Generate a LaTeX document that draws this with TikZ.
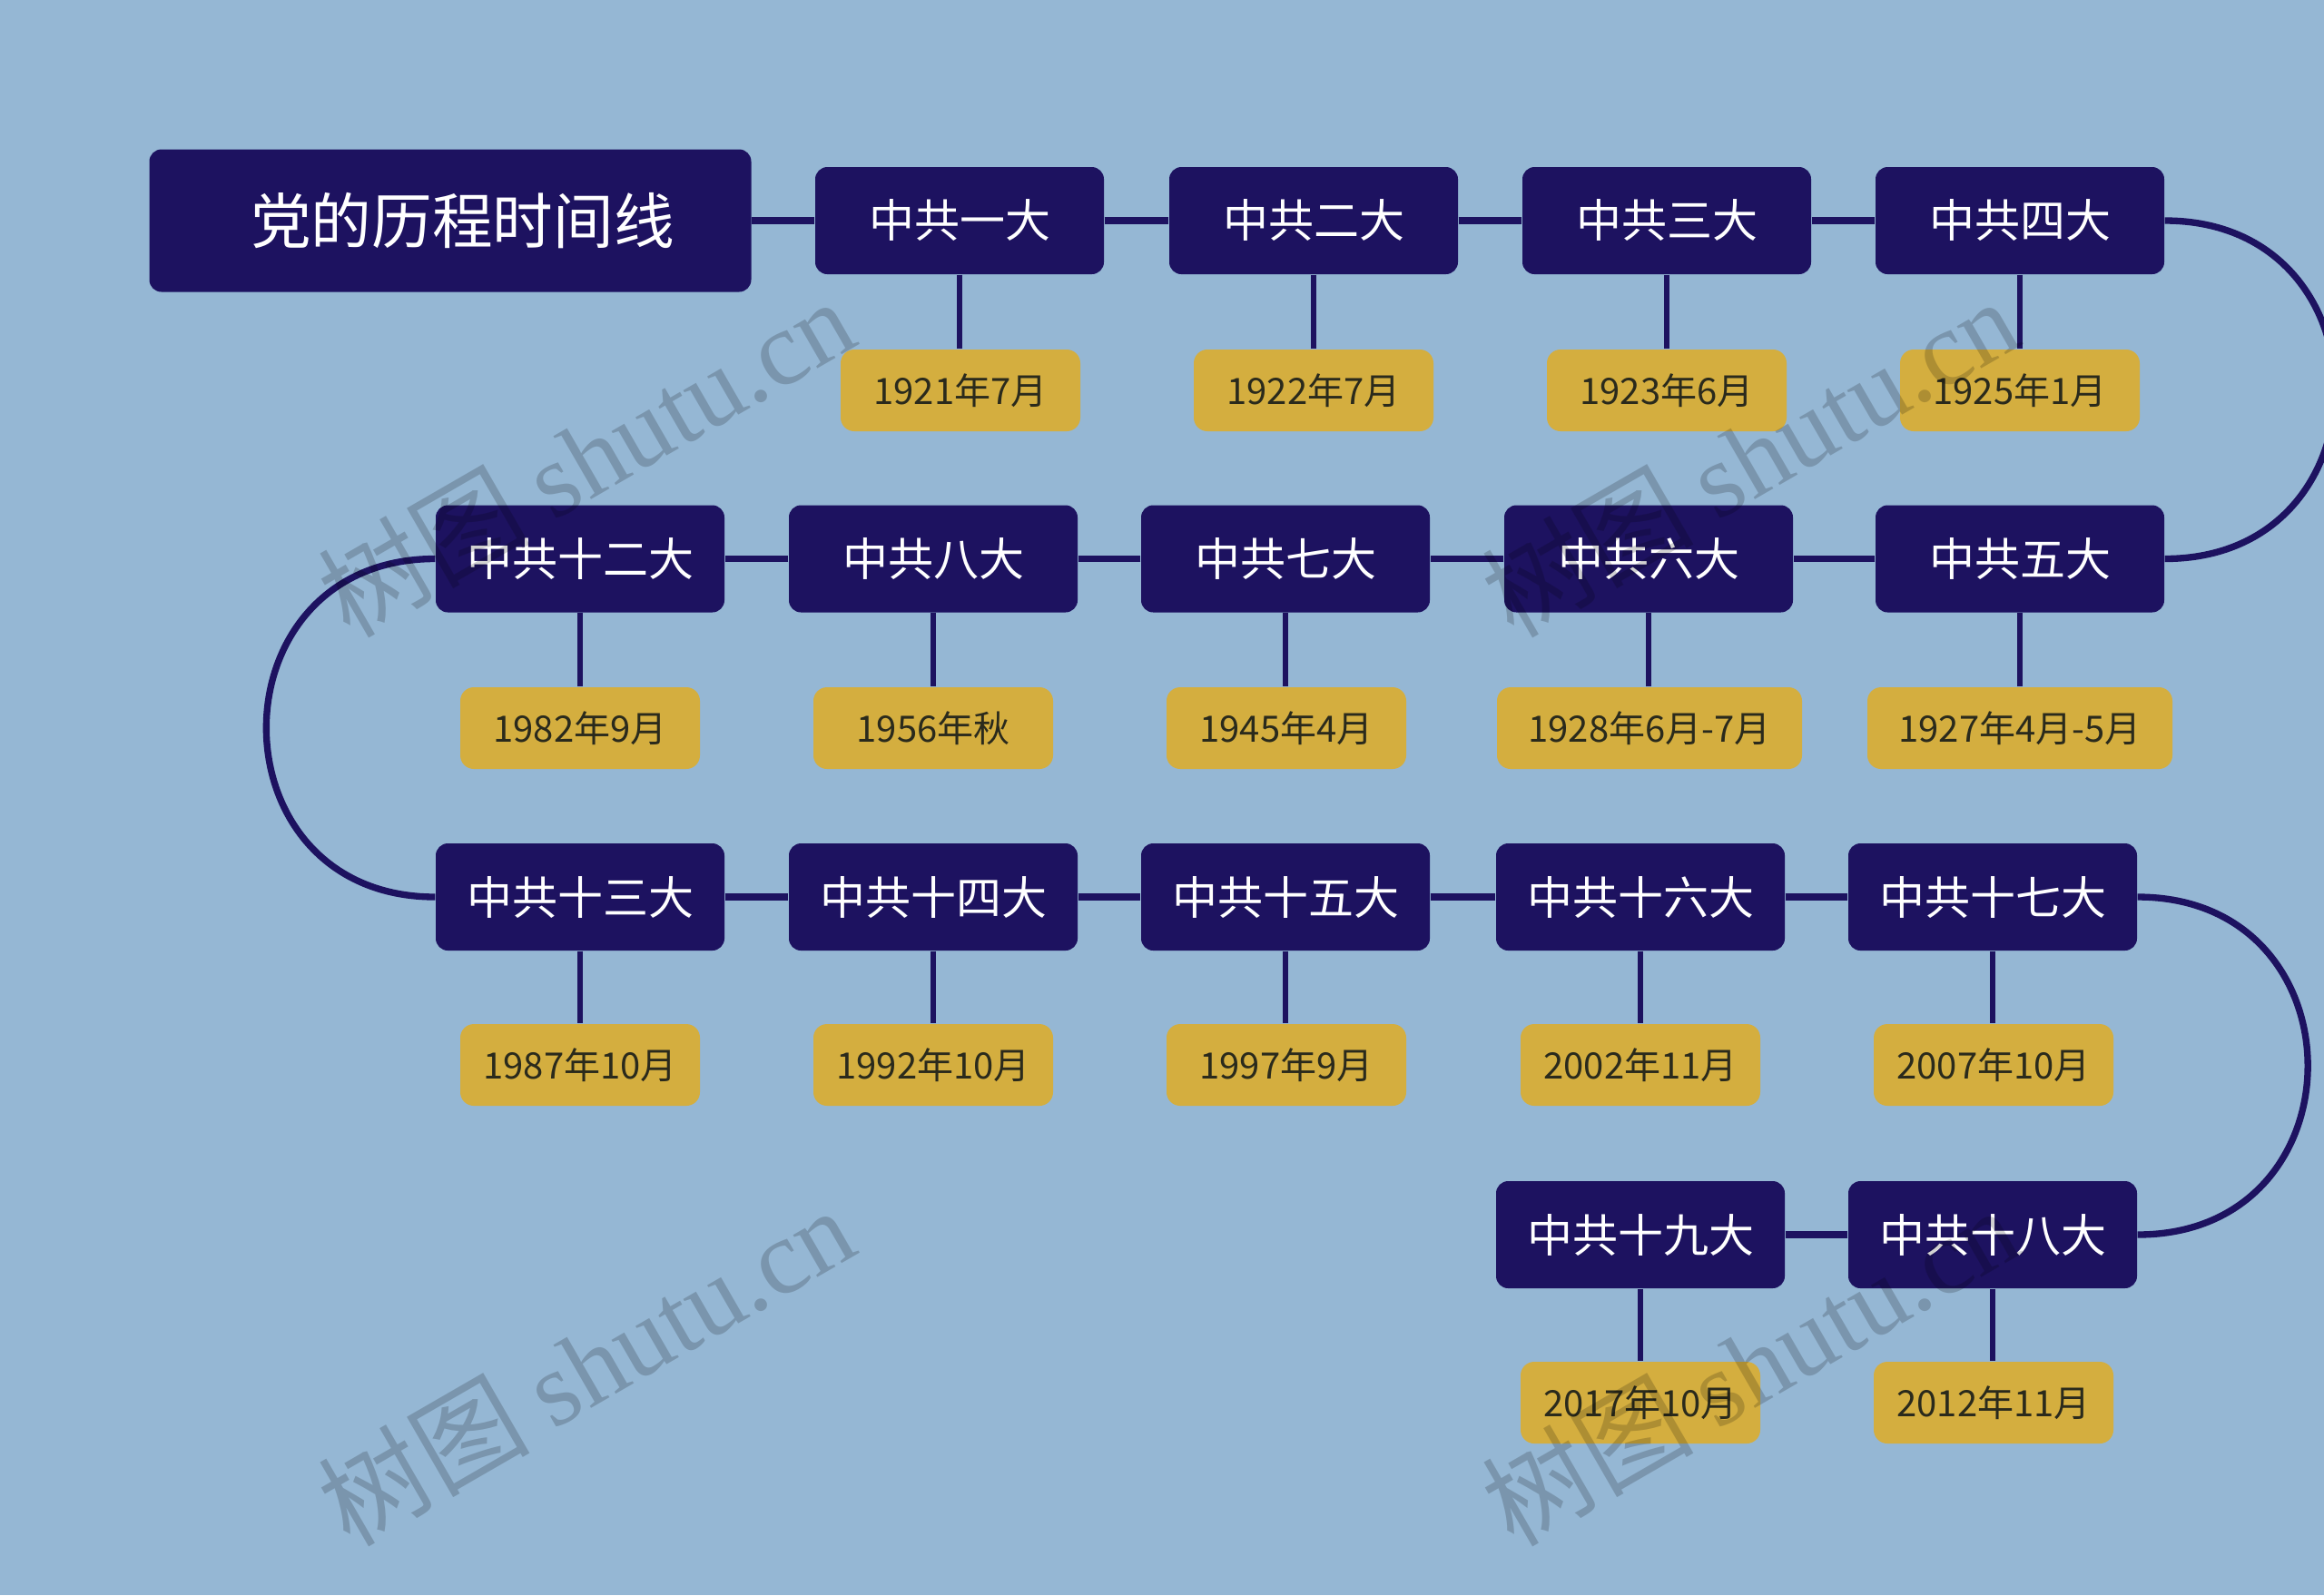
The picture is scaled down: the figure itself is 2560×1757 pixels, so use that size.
\documentclass[tikz,border=0pt]{standalone}
\usepackage{fontspec}
\setmainfont{Noto Sans CJK SC}
\newfontfamily\wmlatin{Liberation Serif}
\definecolor{bg}{HTML}{95B7D4}
\definecolor{navy}{HTML}{1D1260}
\definecolor{gold}{HTML}{D4AE3F}
\definecolor{datetext}{HTML}{2A2A1C}
\begin{document}
\begin{tikzpicture}[x=0.3pt,y=-0.3pt,
  titlebox/.style={fill=navy, rounded corners=4pt, minimum width=198.9pt, minimum height=47.1pt, text=white, font=\fontsize{20}{24}\selectfont, inner sep=0pt},
  congress/.style={fill=navy, rounded corners=4pt, minimum width=95.4pt, minimum height=35.4pt, text=white, font=\fontsize{15}{18}\selectfont, inner sep=0pt},
  datebox/.style={fill=gold, rounded corners=4.5pt, minimum width=79.2pt, minimum height=27pt, text=datetext, font=\fontsize{12}{14}\selectfont, inner sep=0pt},
  widedate/.style={datebox, minimum width=100.8pt},
  link/.style={draw=navy, line width=2.2pt},
  stem/.style={draw=navy, line width=1.8pt},
  watermark/.style={rotate=30, text=black, opacity=0.18, font=\fontsize{35}{40}\selectfont}]
\fill[bg] (0,0) rectangle (2560,1757);
\useasboundingbox (0,0) rectangle (2560,1757);

% title
\node[titlebox] (title) at (496,243) {\hspace*{8pt}党的历程时间线};

% row 1
\node[congress] (n1) at (1057,243) {中共一大};
\node[congress] (n2) at (1447,243) {中共二大};
\node[congress] (n3) at (1836,243) {中共三大};
\node[congress] (n4) at (2225,243) {中共四大};
\node[datebox] (d1) at (1058,430) {1921年7月};
\node[datebox] (d2) at (1447,430) {1922年7月};
\node[datebox] (d3) at (1836,430) {1923年6月};
\node[datebox] (d4) at (2225,430) {1925年1月};

% row 2
\node[congress] (n5) at (2225,615.5) {中共五大};
\node[congress] (n6) at (1816,615.5) {中共六大};
\node[congress] (n7) at (1416,615.5) {中共七大};
\node[congress] (n8) at (1028,615.5) {中共八大};
\node[congress] (n12) at (639,615.5) {中共十二大};
\node[widedate] (d5) at (2225,802) {1927年4月-5月};
\node[widedate] (d6) at (1817,802) {1928年6月-7月};
\node[datebox] (d7) at (1417,802) {1945年4月};
\node[datebox] (d8) at (1028,802) {1956年秋};
\node[datebox] (d12) at (639,802) {1982年9月};

% row 3
\node[congress] (n13) at (639,988) {中共十三大};
\node[congress] (n14) at (1028,988) {中共十四大};
\node[congress] (n15) at (1416,988) {中共十五大};
\node[congress] (n16) at (1807,988) {中共十六大};
\node[congress] (n17) at (2195,988) {中共十七大};
\node[datebox] (d13) at (639,1173) {1987年10月};
\node[datebox] (d14) at (1028,1173) {1992年10月};
\node[datebox] (d15) at (1417,1173) {1997年9月};
\node[datebox] (d16) at (1807,1173) {2002年11月};
\node[datebox] (d17) at (2196,1173) {2007年10月};

% row 4
\node[congress] (n18) at (2195,1360) {中共十八大};
\node[congress] (n19) at (1807,1360) {中共十九大};
\node[datebox] (d18) at (2196,1545) {2012年11月};
\node[datebox] (d19) at (1807,1545) {2017年10月};

% horizontal links
\draw[link] (title.east) -- (n1.west);
\draw[link] (n1.east) -- (n2.west);
\draw[link] (n2.east) -- (n3.west);
\draw[link] (n3.east) -- (n4.west);
\draw[link] (n5.west) -- (n6.east);
\draw[link] (n6.west) -- (n7.east);
\draw[link] (n7.west) -- (n8.east);
\draw[link] (n8.west) -- (n12.east);
\draw[link] (n13.east) -- (n14.west);
\draw[link] (n14.east) -- (n15.west);
\draw[link] (n15.east) -- (n16.west);
\draw[link] (n16.east) -- (n17.west);
\draw[link] (n18.west) -- (n19.east);

% turns
\draw[link] (n4.east) .. controls +(250,0) and +(250,0) .. (n5.east);
\draw[link] (n12.west) .. controls +(-248,0) and +(-248,0) .. (n13.west);
\draw[link] (n17.east) .. controls +(250,0) and +(250,0) .. (n18.east);

% stems
\foreach \k in {1,2,3,4,5,6,7,8,12,13,14,15,16,17,18,19}
  \draw[stem] (n\k.south) -- (n\k.south |- d\k.north);

% watermarks
\node[watermark] (w1) at (645,503) {树图 {\wmlatin shutu.cn}};
\node[watermark] (w2) at (1927,503) {树图 {\wmlatin shutu.cn}};
\node[watermark] (w3) at (645,1504) {树图 {\wmlatin shutu.cn}};
\node[watermark] (w4) at (1927,1504) {树图 {\wmlatin shutu.cn}};
\end{tikzpicture}
\end{document}
